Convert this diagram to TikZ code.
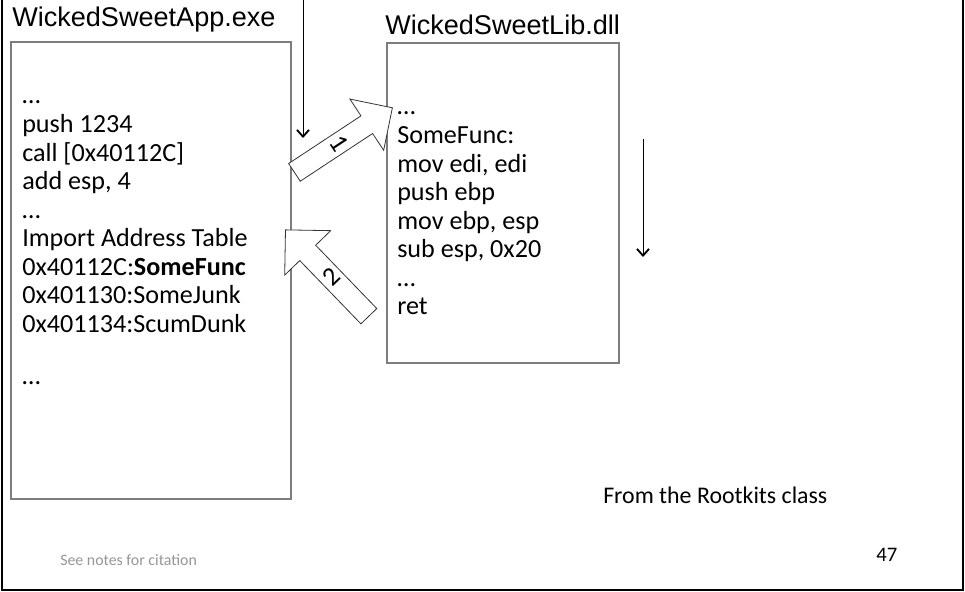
\documentclass[tikz,border=0pt]{standalone}
\usepackage{fontspec}
\setmainfont{Carlito}
\newfontfamily\arialfont{Liberation Sans}
\usetikzlibrary{shapes.arrows, arrows.meta, positioning}
\definecolor{boxgray}{RGB}{125,125,125}
\definecolor{notegray}{RGB}{150,150,150}

\begin{document}
\begin{tikzpicture}[x=0.75pt, y=-0.75pt,
  modbox/.style={draw=boxgray, line width=1.2pt},
  modtitle/.style={anchor=base west, inner sep=0pt, font=\arialfont\fontsize{20.3}{24}\selectfont},
  listing/.style={anchor=base west, inner sep=0pt, font=\fontsize{19.6}{21.4}\selectfont},
  flow/.style={draw, line width=0.75pt, -{Straight Barb[length=5pt,width=9pt,line width=1.4pt]}},
  hop/.style={single arrow, draw=black!80, line width=0.6pt, fill=white,
    single arrow head extend=12pt, single arrow tip angle=90, inner sep=1pt,
    font=\fontsize{19.8}{21.4}\selectfont}
]
\useasboundingbox (0,0) rectangle (965,592);
% slide frame
\draw[line width=2pt] (2,0) -- (2,590) -- (963,590) -- (963,0);

% the executable
\node[modtitle] (apptitle) at (12,27) {WickedSweetApp.exe};
\draw[modbox] (11,42) rectangle (291,499);
\node[listing] (appcode) at (22,104) {%
\begin{tabular}[t]{@{}l@{}}
…\\
push 1234\\
call [0x40112C]\\
add esp, 4\\
…\\
Import Address Table\\
0x40112C:\textbf{SomeFunc}\\
0x401130:SomeJunk\\
0x401134:ScumDunk\\[18pt]
…
\end{tabular}};

% the library
\node[modtitle] (libtitle) at (385,35) {WickedSweetLib.dll};
\draw[modbox] (387,43) rectangle (619,363);
\node[listing] (libcode) at (397,115) {%
\begin{tabular}[t]{@{}l@{}}
…\\
SomeFunc:\\
mov edi, edi\\
push ebp\\
mov ebp, esp\\
sub esp, 0x20\\
…\\
ret
\end{tabular}};

% execution flow
\coordinate (callFrom) at (303,0);
\coordinate (callTo) at (303,138);
\draw[flow] (callFrom) -- (callTo);
\coordinate (runFrom) at (643,139);
\coordinate (runTo) at (643,257);
\draw[flow] (runFrom) -- (runTo);

% jump into the library and back (numbers stand on the shaft)
\node[hop, minimum height=88pt, minimum width=46pt, rotate=33.4] (jump) at (339,143) {\rotatebox{-90}{1}};
\node[hop, minimum height=90pt, minimum width=48pt, rotate=134] (back) at (331,277) {\rotatebox{-90}{2}};

% footer
\node[anchor=base west, inner sep=0pt, font=\fontsize{17.9}{20}\selectfont] (source) at (603,503) {From the Rootkits class};
\node[anchor=base west, inner sep=0pt, text=notegray, font=\fontsize{11.9}{14}\selectfont] (citation) at (60,565) {See notes for citation};
\node[anchor=base west, inner sep=0pt, font=\fontsize{15.5}{18}\selectfont] (slideno) at (876,561) {47};
\end{tikzpicture}
\end{document}
